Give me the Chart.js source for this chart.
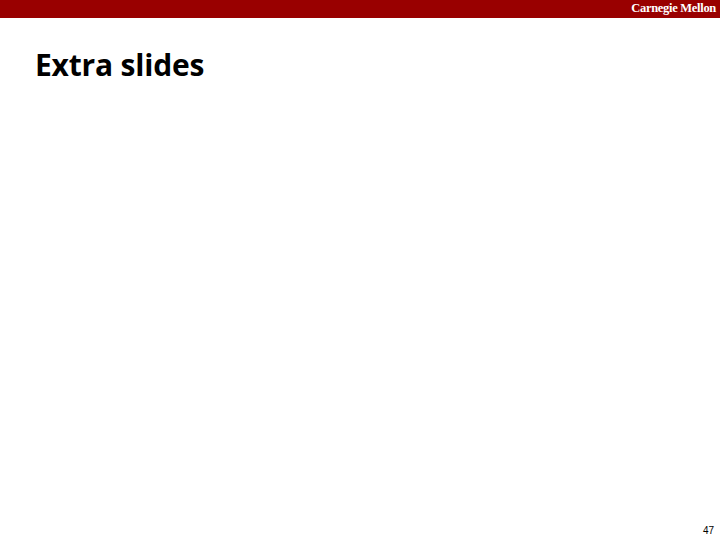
<!DOCTYPE html>
<html>
<head>
<meta charset="utf-8">
<script src="https://cdn.jsdelivr.net/npm/chart.js@4"></script>
<style>
    html, body { margin: 0; padding: 0; background: #ffffff; }
    #page { position: relative; width: 720px; height: 540px; overflow: hidden; }
    #top_bar { position: absolute; left: 0; top: 0; width: 720px; height: 18px; background: #990000; }
    #brand { position: absolute; right: 4px; top: 1px; color: #ffffff; font-family: "Liberation Serif", serif; font-weight: bold; font-size: 12.5px; letter-spacing: -0.3px; }
    #title { position: absolute; left: 35px; top: 44px; font-family: "Open Sans", sans-serif; font-weight: bold; font-size: 30px; letter-spacing: -0.2px; color: #000000; }
    #page_num { position: absolute; right: 6px; top: 525px; font-family: "Liberation Sans", Arial, sans-serif; font-size: 10px; color: #000000; }
    #chart_box { position: absolute; left: 35px; top: 100px; width: 650px; height: 400px; }
</style>
</head>
<body>
<div id="page">
    <div id="top_bar"></div>
    <div id="brand">Carnegie Mellon</div>
    <div id="title">Extra slides</div>
    <div id="chart_box"><canvas id="slide_chart"></canvas></div>
    <div id="page_num">47</div>
</div>
<script>
// the slide has no plotted content, so the series are empty
var categories = [];
var values = [];

var slideChart = new Chart(
    document.getElementById("slide_chart"),
    {
        type: "bar",
        data: {
            labels: categories,
            datasets: [
                {
                    label: "",
                    data: values,
                }
            ]
        },
        options: {
            responsive: true,
            maintainAspectRatio: false,
            animation: false,
            plugins: {
                legend: { display: false },
                tooltip: { enabled: false }
            },
            scales: {
                x: { display: false },
                y: { display: false }
            }
        }
    }
);
</script>
</body>
</html>
